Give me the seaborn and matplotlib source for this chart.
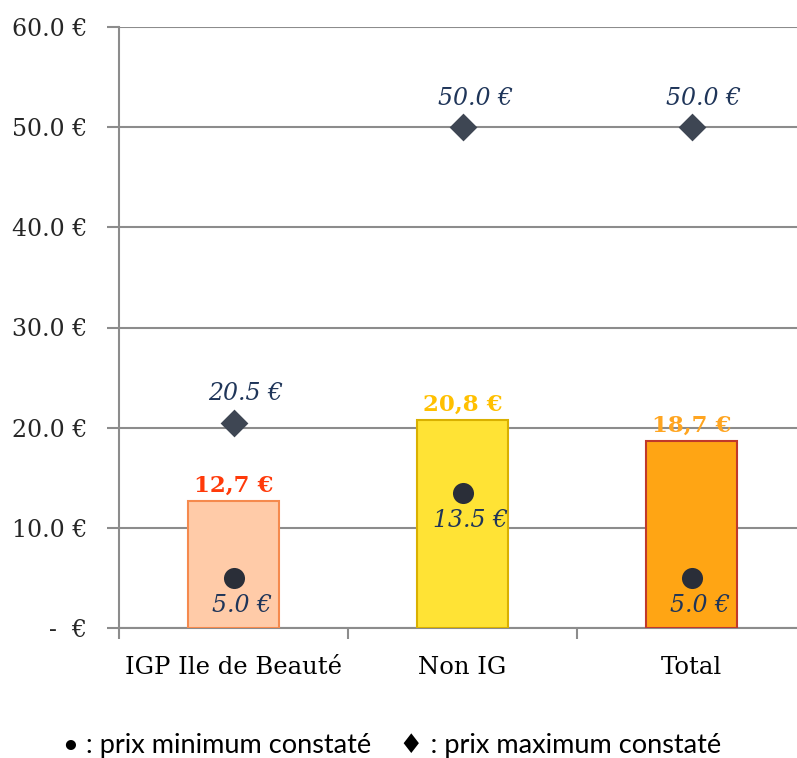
import matplotlib
matplotlib.use("Agg")
import matplotlib.pyplot as plt
import seaborn as sns
import pandas as pd
from matplotlib.ticker import FuncFormatter, FixedLocator

categories = ["IGP Ile de Beauté", "Non IG", "Total"]
prix_moyen = [12.7, 20.8, 18.7]
prix_min = [5.0, 13.5, 5.0]
prix_max = [20.5, 50.0, 50.0]

bar_fill = ["#FFCBA8", "#FFE335", "#FFA514"]
bar_edge = ["#F58A4E", "#D9B000", "#C0392B"]
label_colors = ["#FF3A0A", "#FFC000", "#FFA520"]
dot_color = "#2A2E38"
diamond_color = "#3E4653"
ital_color = "#1F3559"

sns.set_theme(style="white")
plt.rcParams['font.family'] = ['DejaVu Serif']

df = pd.DataFrame({"cat": categories, "moy": prix_moyen, "min": prix_min, "max": prix_max})

fig = plt.figure(figsize=(7.97, 7.58), dpi=100)
ax = fig.add_axes([119/797, 1 - 628/758, 678/797, 601/758])

sns.barplot(data=df, x="cat", y="moy", hue="cat", palette=bar_fill, width=0.4,
            legend=False, ax=ax, saturation=1, zorder=3)
for p, ec in zip(ax.patches, bar_edge):
    p.set_edgecolor(ec)
    p.set_linewidth(1.5)

ax.scatter(range(3), df["min"], s=230, marker="o", color=dot_color, zorder=5, linewidths=0)
ax.scatter(range(3), df["max"], s=200, marker="D", color=diamond_color, zorder=5, linewidths=0)

for i in range(3):
    ax.annotate(f"{prix_moyen[i]:.1f} €".replace(".", ","), (i, prix_moyen[i]),
                xytext=(0, 3), textcoords="offset points", ha="center", va="bottom",
                fontsize=16.5, fontweight="bold", color=label_colors[i], zorder=6)
    ax.annotate(f"{prix_min[i]:.1f} €", (i, prix_min[i]),
                xytext=(6, -20), textcoords="offset points", ha="center", va="center",
                fontsize=17, fontstyle="italic", color=ital_color, zorder=6)
    ax.annotate(f"{prix_max[i]:.1f} €", (i, prix_max[i]),
                xytext=(9, 21), textcoords="offset points", ha="center", va="center",
                fontsize=17, fontstyle="italic", color=ital_color, zorder=6)

ax.set_ylim(0, 60)
ax.set_xlim(-0.5, -0.5 + 678/229)
ax.yaxis.set_major_locator(FixedLocator([0, 10, 20, 30, 40, 50, 60]))
ax.yaxis.set_major_formatter(FuncFormatter(lambda v, p: "-  €" if v == 0 else f"{v:.1f} €"))
ax.grid(axis="y", color="#8C8C8C", linewidth=1.5, zorder=0)
ax.set_axisbelow(True)
ax.set_xlabel("")
ax.set_ylabel("")

for s in ["top", "right"]:
    ax.spines[s].set_visible(False)
for s in ["left", "bottom"]:
    ax.spines[s].set_color("#8C8C8C")
    ax.spines[s].set_linewidth(1.5)

ax.set_xticks([0, 1, 2])
ax.set_xticklabels(categories)
ax.tick_params(axis="x", length=0, pad=20, labelsize=17.5, colors="#000000")
ax.set_xticks([0.5, 1.5, -0.5], minor=True)
ax.tick_params(axis="x", which="minor", length=8, width=1.5, color="#8C8C8C", direction="out")
ax.tick_params(axis="y", length=9, width=1.5, color="#8C8C8C", direction="out",
               left=True, labelsize=17, pad=14)
ax.tick_params(axis="x", which="major", bottom=False)
ax.tick_params(axis="x", which="minor", bottom=True)

fig.text(392/797, 1 - 745/758, "• : prix minimum constaté    ♦ : prix maximum constaté",
         ha="center", va="center", fontsize=19.5, family=["Lato", "DejaVu Sans"], color="#000000")

fig.savefig("out.png", dpi=100)
